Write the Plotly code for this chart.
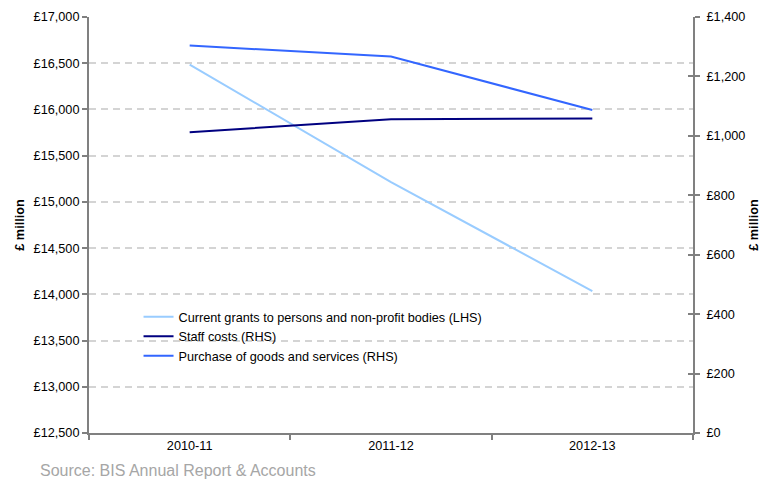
import plotly.graph_objects as go

years = ["2010-11", "2011-12", "2012-13"]
grants_lhs = [16485, 15215, 14035]      # £ million, left axis
staff_rhs = [1012, 1056, 1058]          # £ million, right axis
purchase_rhs = [1304, 1267, 1087]       # £ million, right axis

left_ticks = list(range(12500, 17001, 500))
right_ticks = list(range(0, 1401, 200))
left_labels = [f"£{v:,}" for v in left_ticks]
right_labels = [f"£{v:,}" for v in right_ticks]

font_family = "Liberation Sans, Arial, sans-serif"
axis_grey = "#808080"
fs = 12.7

fig = go.Figure()
fig.add_trace(go.Scatter(
    x=years, y=grants_lhs, mode="lines", yaxis="y",
    name="Current grants to persons and non-profit bodies (LHS)",
    line=dict(color="#99ccff", width=2)))
fig.add_trace(go.Scatter(
    x=years, y=staff_rhs, mode="lines", yaxis="y2",
    name="Staff costs (RHS)",
    line=dict(color="#000080", width=2)))
fig.add_trace(go.Scatter(
    x=years, y=purchase_rhs, mode="lines", yaxis="y2",
    name="Purchase of goods and services (RHS)",
    line=dict(color="#3366ff", width=2)))

# an invisible trace keeps the third (tick-only) axis drawn
fig.add_trace(go.Scatter(x=[years[0]], y=[0], yaxis="y3", mode="markers",
                         marker=dict(opacity=0), showlegend=False,
                         hoverinfo="skip"))

fig.update_layout(
    width=763, height=479,
    margin=dict(l=88.5, r=70.3, t=17.3, b=46.3),
    paper_bgcolor="white", plot_bgcolor="white",
    font=dict(family=font_family, size=fs, color="#000000"),
    showlegend=True,
    legend=dict(
        x=0.082, y=0.315, xanchor="left", yanchor="top",
        bgcolor="rgba(0,0,0,0)", font=dict(size=fs),
        tracegroupgap=0, itemwidth=30,
    ),
    xaxis=dict(
        type="category", range=[-0.5, 2.5], automargin=False,
        showline=True, linecolor=axis_grey, linewidth=2,
        ticks="outside", ticklen=5, tickcolor=axis_grey, tickwidth=1.5,
        tickson="boundaries", showgrid=False, zeroline=False,
        tickfont=dict(size=fs),
    ),
    yaxis=dict(
        range=[12500, 17000], tickvals=left_ticks, ticktext=left_labels,
        automargin=False,
        showline=True, linecolor=axis_grey, linewidth=2,
        ticks="outside", ticklen=5, tickcolor=axis_grey, tickwidth=1.5,
        showgrid=True, gridcolor="#d4d4d4", gridwidth=1.5, griddash="7px,5px",
        zeroline=False,
        title=dict(text="<b>£ million</b>", font=dict(size=fs), standoff=6),
    ),
    yaxis2=dict(
        range=[0, 1400], tickvals=right_ticks, ticktext=right_labels,
        overlaying="y", side="right", anchor="x", automargin=False,
        showline=True, linecolor=axis_grey, linewidth=2,
        ticks="outside", ticklen=5, tickcolor=axis_grey, tickwidth=1.5,
        ticklabelstandoff=4,
        showgrid=False, zeroline=False,
        title=dict(text="<b>£ million</b>", font=dict(size=fs), standoff=5),
    ),
    # inner half of the crossing tick marks on the right-hand axis
    yaxis3=dict(
        range=[0, 1400], tickvals=right_ticks,
        overlaying="y", side="right", anchor="x", automargin=False,
        showline=False, showticklabels=False,
        ticks="inside", ticklen=5, tickcolor=axis_grey, tickwidth=1.5,
        showgrid=False, zeroline=False,
    ),
    annotations=[dict(
        text="Source: BIS Annual Report & Accounts",
        xref="paper", yref="paper", x=-0.085, y=-0.09,
        xanchor="left", yanchor="middle", showarrow=False,
        font=dict(size=16, color="#a6a6a6"),
    )],
)

fig.write_html("out.html")
